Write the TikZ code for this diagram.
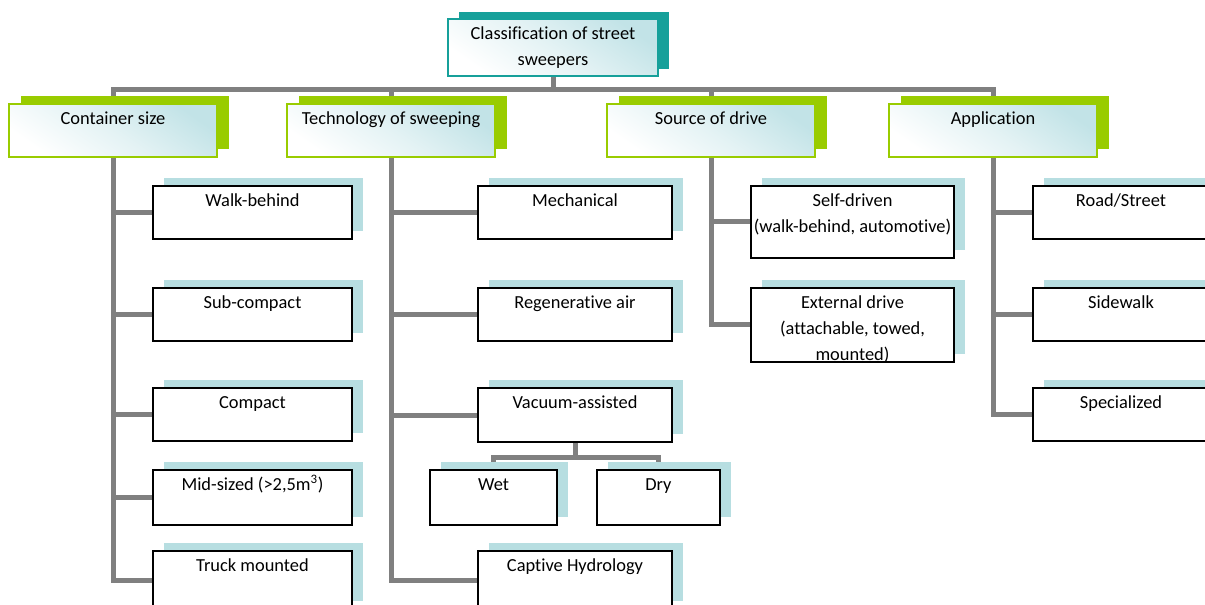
\documentclass[tikz,border=0pt]{standalone}
\usepackage{fontspec}
\setmainfont{Carlito}[Ligatures=NoCommon]
\usetikzlibrary{shadows,backgrounds}
\definecolor{tealc}{HTML}{16A09A}
\definecolor{grnc}{HTML}{99CC00}
\definecolor{shadc}{HTML}{B7DEE1}
\definecolor{linec}{HTML}{808080}
\definecolor{tintc}{HTML}{C2E3E7}
\tikzset{
  conn/.style={draw=linec, line width=3.75pt},
  txt/.style={anchor=north, inner sep=0pt, align=center, yshift=-2pt,
    font=\fontsize{13.8}{19.5}\selectfont},
  leaf/.style={draw=black, line width=1.5pt, fill=white, inner sep=0pt,
    minimum height=39.75pt,
    general shadow={fill=shadc, shadow xshift=8.25pt, shadow yshift=6pt}},
  catbox/.style={draw=grnc, line width=1.5pt, inner sep=0pt,
    top color=tintc, bottom color=white, middle color=white!55!tintc, shading angle=-35,
    minimum width=156pt, minimum height=39.75pt,
    general shadow={fill=grnc, shadow xshift=9pt, shadow yshift=6pt}},
  rootbox/.style={draw=tealc, line width=1.5pt, inner sep=0pt,
    top color=tintc, bottom color=white, middle color=white!55!tintc, shading angle=-35,
    minimum width=157.5pt, minimum height=42.75pt,
    general shadow={fill=tealc, shadow xshift=8.25pt, shadow yshift=5.25pt}},
}
\begin{document}
\begin{tikzpicture}[x=0.75pt, y=-0.75pt]
\useasboundingbox (0,0) rectangle (1205,605);

% root
\node[rootbox] (root) at (553,47.5) {};
\node[txt] (root-t) at (root.north) {\strut Classification of street\\sweepers};

% categories
\node[catbox] (c1) at (113,130.5) {};
\node[catbox] (c2) at (391,130.5) {};
\node[catbox] (c3) at (711,130.5) {};
\node[catbox] (c4) at (993,130.5) {};
\node[txt] (c1-t) at (c1.north) {\strut Container size};
\node[txt] (c2-t) at (c2.north) {\strut Technology of sweeping};
\node[txt] (c3-t) at (c3.north) {\strut Source of drive};
\node[txt] (c4-t) at (c4.north) {\strut Application};

% container size leaves
\node[leaf, minimum width=149.25pt] (a1) at (252.5,212.5) {};
\node[leaf, minimum width=149.25pt] (a2) at (252.5,314.5) {};
\node[leaf, minimum width=149.25pt] (a3) at (252.5,414.5) {};
\node[leaf, minimum width=149.25pt, minimum height=41.25pt] (a4) at (252.5,497.5) {};
\node[leaf, minimum width=149.25pt, minimum height=43.5pt] (a5) at (252.5,580) {};
\node[txt] (a1-t) at (a1.north) {\strut Walk-behind};
\node[txt] (a2-t) at (a2.north) {\strut Sub-compact};
\node[txt] (a3-t) at (a3.north) {\strut Compact};
\node[txt] (a4-t) at (a4.north) {\strut Mid-sized (>2,5m\textsuperscript{3})};
\node[txt] (a5-t) at (a5.north) {\strut Truck mounted};

% technology leaves
\node[leaf, minimum width=145.5pt] (b1) at (575,212.5) {};
\node[leaf, minimum width=145.5pt] (b2) at (575,314.5) {};
\node[leaf, minimum width=145.5pt, minimum height=40.5pt] (b3) at (575,415) {};
\node[leaf, minimum width=145.5pt, minimum height=43.5pt] (b4) at (575,580) {};
\node[leaf, minimum width=95.25pt, minimum height=41.25pt] (wet) at (493.5,497.5) {};
\node[leaf, minimum width=92.25pt, minimum height=41.25pt] (dry) at (658.5,497.5) {};
\node[txt] (b1-t) at (b1.north) {\strut Mechanical};
\node[txt] (b2-t) at (b2.north) {\strut Regenerative air};
\node[txt] (b3-t) at (b3.north) {\strut Vacuum-assisted};
\node[txt] (b4-t) at (b4.north) {\strut Captive Hydrology};
\node[txt] (wet-t) at (wet.north) {\strut Wet};
\node[txt] (dry-t) at (dry.north) {\strut Dry};

% source of drive leaves
\node[leaf, minimum width=152.25pt, minimum height=54pt] (s1) at (852.5,222) {};
\node[leaf, minimum width=152.25pt, minimum height=55.5pt] (s2) at (852.5,325) {};
\node[txt] (s1-t) at (s1.north) {\strut Self-driven\\(walk-behind, automotive)};
\node[txt] (s2-t) at (s2.north) {\strut External drive\\(attachable, towed,\\mounted)};

% application leaves
\node[leaf, minimum width=132pt] (d1) at (1121,212.5) {};
\node[leaf, minimum width=132pt] (d2) at (1121,314.5) {};
\node[leaf, minimum width=132pt] (d3) at (1121,414.5) {};
\node[txt] (d1-t) at (d1.north) {\strut Road/Street};
\node[txt] (d2-t) at (d2.north) {\strut Sidewalk};
\node[txt] (d3-t) at (d3.north) {\strut Specialized};

\begin{scope}[on background layer]
  \fill[white] (0,0) rectangle (1205,605);
  \foreach \c in {c1,c2,c3,c4}
    \draw[conn] (root.south) -- ++(0,13) -| (\c.north);
  \foreach \l in {a1,a2,a3,a4,a5}
    \draw[conn] (c1.south) |- (\l.west);
  \foreach \l in {b1,b2,b3,b4}
    \draw[conn] (c2.south) |- (\l.west);
  \foreach \l in {s1,s2}
    \draw[conn] (c3.south) |- (\l.west);
  \foreach \l in {d1,d2,d3}
    \draw[conn] (c4.south) |- (\l.west);
  \foreach \l in {wet,dry}
    \draw[conn] (b3.south) -- ++(0,14) -| (\l.north);
\end{scope}
\end{tikzpicture}
\end{document}
